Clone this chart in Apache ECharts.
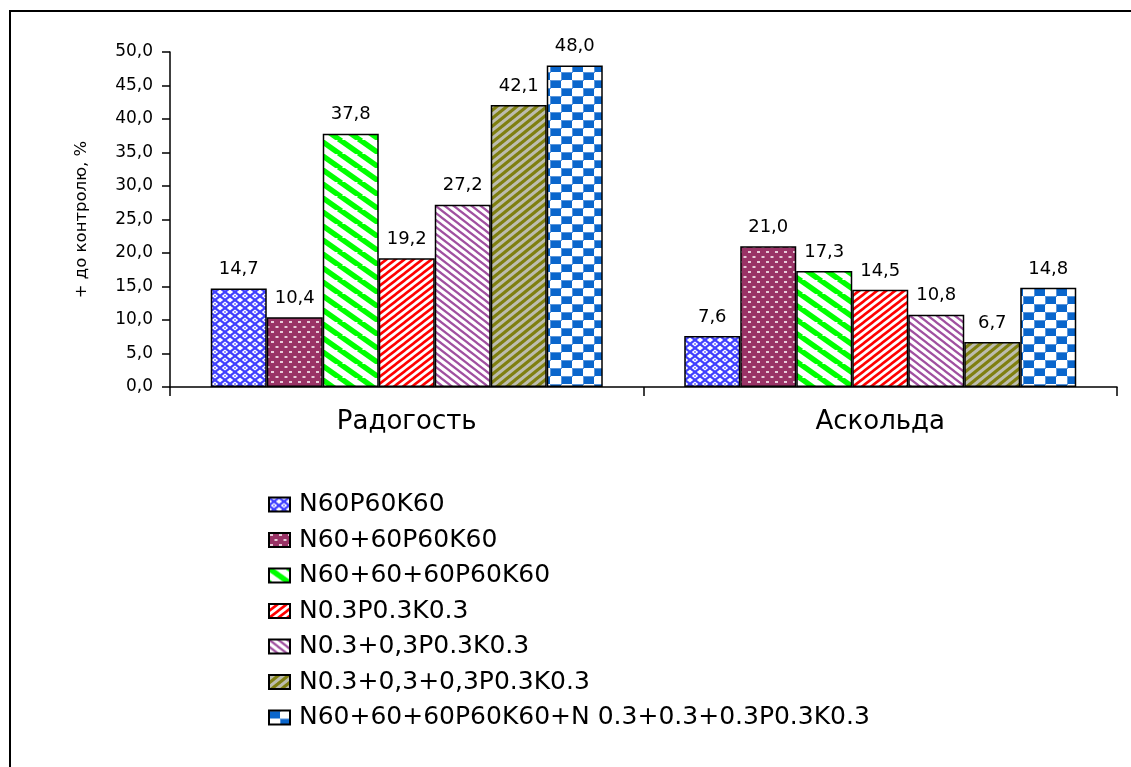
<!DOCTYPE html>
<html>
<head>
<meta charset="utf-8">
<script src="https://cdn.jsdelivr.net/npm/echarts@6/dist/echarts.min.js"></script>
<style>
  html, body { margin: 0; padding: 0; background: #fff; }
  #chart { position: absolute; left: 0; top: 0; width: 1131px; height: 767px; }
  #frame { position: absolute; left: 9px; top: 10px; width: 1140px; height: 780px;
           border-left: 2.5px solid #000; border-top: 2.5px solid #000; pointer-events: none; }
</style>
</head>
<body>
<div id="chart"></div>
<div id="frame"></div>
<script>
// ---- data ----
const categories = ['Радогость', 'Аскольда'];
const seriesNames = [
  'N60P60K60',
  'N60+60P60K60',
  'N60+60+60P60K60',
  'N0.3P0.3K0.3',
  'N0.3+0,3P0.3K0.3',
  'N0.3+0,3+0,3P0.3K0.3',
  'N60+60+60P60K60+N 0.3+0.3+0.3P0.3K0.3'
];
const valuesS1 = [14.7, 7.6];
const valuesS2 = [10.4, 21.0];
const valuesS3 = [37.8, 17.3];
const valuesS4 = [19.2, 14.5];
const valuesS5 = [27.2, 10.8];
const valuesS6 = [42.1, 6.7];
const valuesS7 = [48.0, 14.8];
const yMin = 0, yMax = 50, yStep = 5;

// ---- patterns ----
function makeCanvas(w, h) {
  const c = document.createElement('canvas');
  c.width = w; c.height = h;
  return c;
}
function stripes(w, h, fg, bg, lw, dir) {
  const c = makeCanvas(w, h), g = c.getContext('2d');
  g.fillStyle = bg; g.fillRect(0, 0, w, h);
  g.strokeStyle = fg; g.lineWidth = lw;
  const ex = w / h;
  for (const k of [-w, 0, w]) {
    g.beginPath();
    if (dir === '\\') { g.moveTo(k - ex, -1); g.lineTo(k + w + ex, h + 1); }
    else { g.moveTo(k - ex, h + 1); g.lineTo(k + w + ex, -1); }
    g.stroke();
  }
  return c;
}
function lattice() {
  const w = 10, h = 8, c = makeCanvas(w, h), g = c.getContext('2d');
  g.fillStyle = '#ffffff'; g.fillRect(0, 0, w, h);
  g.strokeStyle = '#4040ff'; g.lineWidth = 2.2;
  for (const k of [-w, 0, w]) {
    g.beginPath(); g.moveTo(k, 0); g.lineTo(k + w, h); g.stroke();
    g.beginPath(); g.moveTo(k, h); g.lineTo(k + w, 0); g.stroke();
  }
  g.fillStyle = '#9090ff';
  g.fillRect(4, 0, 2, 1); g.fillRect(4, 7, 2, 1);
  return c;
}
function dots() {
  const c = makeCanvas(9, 10), g = c.getContext('2d');
  g.fillStyle = '#993366'; g.fillRect(0, 0, 9, 10);
  g.fillStyle = '#e8ccda';
  g.fillRect(1, 1, 3, 2);
  g.fillRect(5.5, 6, 3, 2);
  return c;
}
function checker() {
  const sw = 11, sh = 8, c = makeCanvas(2 * sw, 2 * sh), g = c.getContext('2d');
  g.fillStyle = '#ffffff'; g.fillRect(0, 0, 2 * sw, 2 * sh);
  g.fillStyle = '#0a66cc';
  g.fillRect(1, 1, sw - 1, sh - 1); g.fillRect(sw + 1, sh + 1, sw - 1, sh - 1);
  g.fillStyle = '#5a96dc';
  g.fillRect(0, 0, sw + 1, 1); g.fillRect(0, 0, 1, sh + 1);
  g.fillRect(sw, sh, sw, 1); g.fillRect(sw, sh, 1, sh);
  return c;
}
const patterns = [
  lattice(),
  dots(),
  stripes(20, 14, '#00ff00', '#ffffff', 5.5, '\\'),
  stripes(9, 7, '#ff0000', '#ffffff', 2.6, '/'),
  stripes(9, 7, '#a050a0', '#ffffff', 2.2, '\\'),
  stripes(10, 8, '#7f7f10', '#bdbdae', 3.2, '/'),
  checker()
];
const seriesValues = [valuesS1, valuesS2, valuesS3, valuesS4, valuesS5, valuesS6, valuesS7];

const FONT = 'DejaVu Sans';
const fmt = v => Number(v).toFixed(1).replace('.', ',');

const chart = echarts.init(document.getElementById('chart'), null, { renderer: 'canvas' });
chart.setOption({
  animation: false,
  backgroundColor: '#ffffff',
  grid: { left: 170, right: 14, top: 52, bottom: 380, containLabel: false },
  legend: {
    orient: 'vertical',
    left: 268,
    top: 492,
    padding: 0,
    itemWidth: 21,
    itemHeight: 14,
    itemGap: 10.5,
    icon: 'rect',
    textStyle: { fontFamily: FONT, fontSize: 25, color: '#000', lineHeight: 22, padding: [0, 0, 0, 4] },
    data: seriesNames
  },
  xAxis: {
    type: 'category',
    data: categories,
    axisLine: { lineStyle: { color: '#000', width: 1.5 } },
    axisTick: { show: true, length: 9, lineStyle: { color: '#000', width: 1.5 } },
    axisLabel: { fontFamily: FONT, fontSize: 26, color: '#000', margin: 22 },
    splitLine: { show: false }
  },
  yAxis: {
    type: 'value',
    min: yMin, max: yMax, interval: yStep,
    name: '+ до контролю, %',
    nameLocation: 'middle',
    nameGap: 80,
    nameTextStyle: { fontFamily: FONT, fontSize: 16.5, color: '#000' },
    axisLine: { show: true, lineStyle: { color: '#000', width: 1.5 } },
    axisTick: { show: true, length: 8, lineStyle: { color: '#000', width: 1.5 } },
    axisLabel: { fontFamily: FONT, fontSize: 17, color: '#000', margin: 17, formatter: v => fmt(v) },
    splitLine: { show: false }
  },
  series: seriesNames.map((name, i) => ({
    name: name,
    type: 'bar',
    data: seriesValues[i],
    barWidth: 56,
    barGap: '0%',
    itemStyle: {
      color: { image: patterns[i], repeat: 'repeat' },
      borderColor: '#000',
      borderWidth: 1.5
    },
    label: {
      show: true,
      position: 'top',
      distance: 10,
      fontFamily: FONT,
      fontSize: 18,
      color: '#000',
      formatter: p => fmt(p.value)
    },
    emphasis: { disabled: true }
  }))
});
</script>
</body>
</html>
